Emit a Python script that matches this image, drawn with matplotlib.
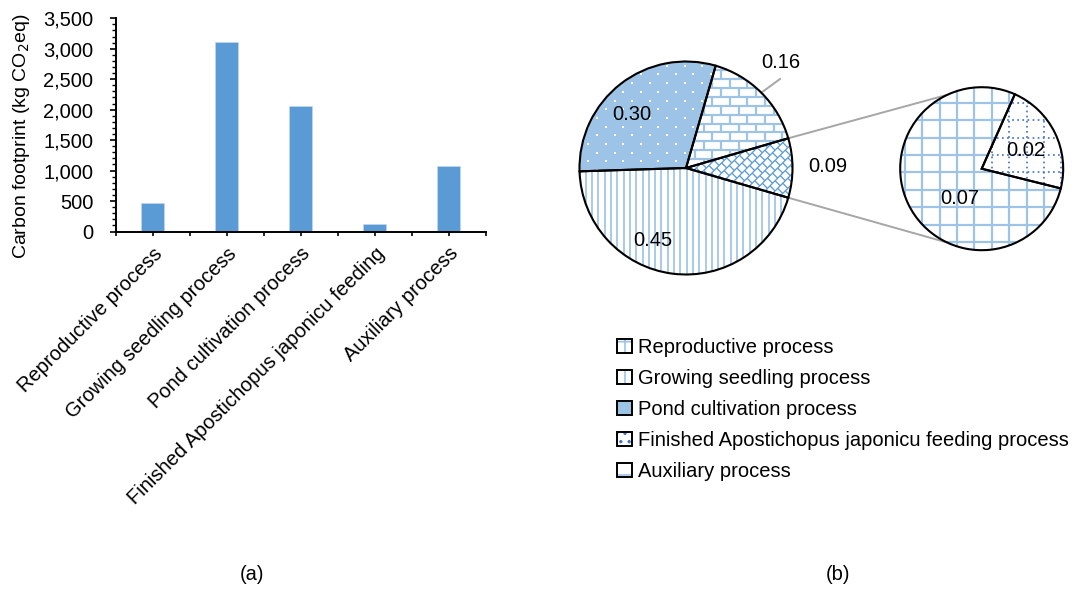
import numpy as np
import matplotlib
matplotlib.use("Agg")
import matplotlib.pyplot as plt
from matplotlib.collections import LineCollection
from matplotlib.patches import Patch
from matplotlib.legend_handler import HandlerTuple
from matplotlib.ticker import MultipleLocator, FuncFormatter, FixedLocator

plt.rcParams['font.family'] = ['Liberation Sans', 'DejaVu Sans']
plt.rcParams['hatch.linewidth'] = 1.2

# ---------------- data ----------------
processes = ["Reproductive process", "Growing seedling process",
             "Pond cultivation process",
             "Finished Apostichopus japonicu feeding process",
             "Auxiliary process"]
bar_labels = ["Reproductive process", "Growing seedling process",
              "Pond cultivation process",
              "Finished Apostichopus japonicu feeding",
              "Auxiliary process"]
footprint = [470, 3115, 2065, 125, 1075]          # kg CO2eq

# main pie: [split-out part, auxiliary, pond cultivation, growing seedling]
main_shares = [0.09, 0.16, 0.30, 0.45]
# secondary pie: [finished feeding, reproductive]
sub_shares = [0.02, 0.07]

# ---------------- style ----------------
BAR = '#5b9bd5'
LIGHT = '#9dc3e6'
MID = '#5b9bd5'
DARK = '#4472c4'
GREY = '#a6a6a6'
FS = 14.5
W, H = 1081, 590
PX = 0.72  # points per pixel at 100 dpi

fig = plt.figure(figsize=(W / 100, H / 100), dpi=100)

# ================= (a) bar chart =================
ax = fig.add_axes([115.7 / W, 1 - 231.5 / H, 370 / W, 213.2 / H])
x = np.arange(len(footprint))
ax.bar(x, footprint, width=0.31, color=BAR, edgecolor='#c5dcf0', linewidth=0.4)
ax.set_xlim(-0.5, len(footprint) - 0.5)
ax.set_ylim(0, 3500)
for s in ['top', 'right']:
    ax.spines[s].set_visible(False)
for s in ['left', 'bottom']:
    ax.spines[s].set_linewidth(1.4)
ax.yaxis.set_major_locator(MultipleLocator(500))
ax.yaxis.set_minor_locator(MultipleLocator(100))
ax.yaxis.set_major_formatter(FuncFormatter(lambda v, p: f"{int(v):,}"))
ax.tick_params(axis='y', which='major', direction='out', length=4.2, width=1.2,
               pad=12, labelsize=FS)
ax.tick_params(axis='y', which='minor', direction='out', length=3.0, width=1.0)
ax.set_xticks(x)
ax.xaxis.set_minor_locator(FixedLocator(np.arange(-0.5, len(footprint), 1.0)))
ax.set_xticklabels(bar_labels, rotation=45, ha='right', va='top',
                   rotation_mode='anchor', fontsize=FS)
ax.tick_params(axis='x', which='both', direction='out', length=3.0, width=1.2, pad=6)
ax.set_ylabel("Carbon footprint (kg CO$_2$eq)", fontsize=FS - 0.5)
ax.yaxis.set_label_coords((22 - 115.7) / 370, (231.5 - 136) / 213.2)
ax.yaxis.label.set_verticalalignment('center')

fig.text(252 / W, 1 - 575 / H, "(a)", ha='center', va='center', fontsize=FS)
fig.text(838 / W, 1 - 575 / H, "(b)", ha='center', va='center', fontsize=FS)

# ================= (b) pie of pie =================
axp = fig.add_axes([0, 0, 1, 1])
axp.patch.set_alpha(0)


def P(px, py):
    """top-left pixel position -> axes data position"""
    return (px, H - py)


c_main = P(686, 168)
r_main = 106.5
c_sub = P(981.7, 168.7)
r_sub = 81.5

half = main_shares[0] * 360 / 2
main_faces = ['white', 'white', LIGHT, 'white']
main_w, _ = axp.pie(main_shares, center=c_main, radius=r_main, startangle=-half,
                    colors=main_faces, wedgeprops=dict(linewidth=0, zorder=1),
                    frame=True)
sub_start = 26 - sub_shares[0] / sum(sub_shares) * 360 / 2
sub_w, _ = axp.pie(sub_shares, center=c_sub, radius=r_sub, startangle=sub_start,
                   colors=['white', 'white'], wedgeprops=dict(linewidth=0, zorder=1),
                   frame=True)


def rot(segs, ang, c):
    a = np.deg2rad(ang)
    R = np.array([[np.cos(a), -np.sin(a)], [np.sin(a), np.cos(a)]])
    return [np.asarray(s) @ R.T + np.asarray(c) for s in segs]


def vlines(c, r, step):
    x0 = np.floor((c[0] - r) / step) * step
    xs = np.arange(x0, c[0] + r + step, step)
    return [[(xx, c[1] - r), (xx, c[1] + r)] for xx in xs]


def grid(c, r, step):
    segs = vlines(c, r, step)
    y0 = np.floor((c[1] - r) / step) * step
    ys = np.arange(y0, c[1] + r + step, step)
    segs += [[(c[0] - r, yy), (c[0] + r, yy)] for yy in ys]
    return segs


def bricks(c, r, row, length, ang=0.0):
    L = 1.5 * r
    segs = []
    n = int(np.ceil(L / row))
    m = int(np.ceil(L / length)) + 1
    for i in range(-n, n + 1):
        y0 = i * row
        segs.append([(-L, y0), (L, y0)])
        off = (i % 2) * length / 2
        for k in range(-m, m + 1):
            xk = k * length + off
            segs.append([(xk, y0), (xk, y0 + row)])
    return rot(segs, ang, c)


def add_lines(segs, clip, color, lw, ls='solid'):
    lc = LineCollection(segs, colors=color, linewidths=lw, linestyles=ls, zorder=2)
    axp.add_collection(lc)
    lc.set_clip_path(clip)


# split-out part: diagonal bricks
add_lines(bricks(c_main, r_main, 7.2, 7.2, 45), main_w[0], MID, 1.3 * PX)
# auxiliary: horizontal bricks
add_lines(bricks(c_main, r_main, 8.9, 17.5, 0), main_w[1], LIGHT, 2.2 * PX)
# pond cultivation: staggered white dots
dx, dy = 17.5, 8.7
pts = []
for j, yy in enumerate(np.arange(c_main[1] - r_main, c_main[1] + r_main, dy)):
    off = (j % 2) * dx / 2
    for xx in np.arange(c_main[0] - r_main + off, c_main[0] + r_main, dx):
        pts.append((xx, yy))
pts = np.array(pts)
dots = axp.scatter(pts[:, 0], pts[:, 1], s=3.8, color='white', linewidths=0,
                   marker='s', zorder=2)
dots.set_clip_path(main_w[2])
# growing seedling: vertical lines
add_lines(vlines(c_main, r_main, 6.3), main_w[3], LIGHT, 1.7 * PX)
# secondary pie: dotted grid and solid grid
add_lines(grid(c_sub, r_sub, 17.4), sub_w[0], DARK, 1.7 * PX, ls=(0, (1, 2.0)))
add_lines(grid(c_sub, r_sub, 17.4), sub_w[1], LIGHT, 2.2 * PX)

# outlines on top of the fills
axp.pie(main_shares, center=c_main, radius=r_main, startangle=-half,
        wedgeprops=dict(fill=False, edgecolor='black', linewidth=1.5, zorder=4),
        frame=True)
axp.pie(sub_shares, center=c_sub, radius=r_sub, startangle=sub_start,
        wedgeprops=dict(fill=False, edgecolor='black', linewidth=1.5, zorder=4),
        frame=True)

# connector lines between the two pies
for sgn in (1, -1):
    a1 = np.deg2rad(sgn * half)
    a2 = np.deg2rad(sgn * 115)
    p1 = (c_main[0] + r_main * np.cos(a1), c_main[1] + r_main * np.sin(a1))
    p2 = (c_sub[0] + r_sub * np.cos(a2), c_sub[1] + r_sub * np.sin(a2))
    axp.plot([p1[0], p2[0]], [p1[1], p2[1]], color=GREY, lw=1.4, zorder=3,
             solid_capstyle='butt')

# value labels
main_offsets = [(142, 1), (95, 105), (-54, 53), (-33.5, -72)]
for v, (ox, oy) in zip(main_shares, main_offsets):
    axp.text(c_main[0] + ox, c_main[1] + oy, f"{v:.2f}", ha='center', va='center',
             fontsize=FS, zorder=5)
sub_offsets = [(44.3, 18.7), (-21.7, -29.3)]
for v, (ox, oy) in zip(sub_shares, sub_offsets):
    axp.text(c_sub[0] + ox, c_sub[1] + oy, f"{v:.2f}", ha='center', va='center',
             fontsize=FS, zorder=5)
# leader line of the auxiliary slice
mid = np.deg2rad(half + main_shares[1] * 360 / 2)
axp.plot([c_main[0] + r_main * np.cos(mid), c_main[0] + 94],
         [c_main[1] + r_main * np.sin(mid), c_main[1] + 89],
         color=GREY, lw=1.4, zorder=3)


# legend
def swatch(face, hatch=None, hcol=LIGHT):
    fill = Patch(facecolor=face, edgecolor=hcol, hatch=hatch, linewidth=0)
    border = Patch(fill=False, edgecolor='black', linewidth=1.4)
    return (fill, border)


handles = [swatch('white', '+'), swatch('white', '|'), swatch(LIGHT),
           swatch('white', '..', DARK), swatch('white', '-')]
axp.legend(handles, processes,
           handler_map={tuple: HandlerTuple(ndivide=1, pad=0)},
           loc='upper left', bbox_to_anchor=P(617, 338),
           bbox_transform=axp.transData, frameon=False, fontsize=FS,
           borderpad=0, borderaxespad=0, handlelength=0.72, handleheight=0.72,
           handletextpad=0.3, labelspacing=0.6)

axp.set_xlim(0, W)
axp.set_ylim(0, H)
axp.set_aspect('auto')
axp.axis('off')

fig.savefig("out.png", dpi=100)
